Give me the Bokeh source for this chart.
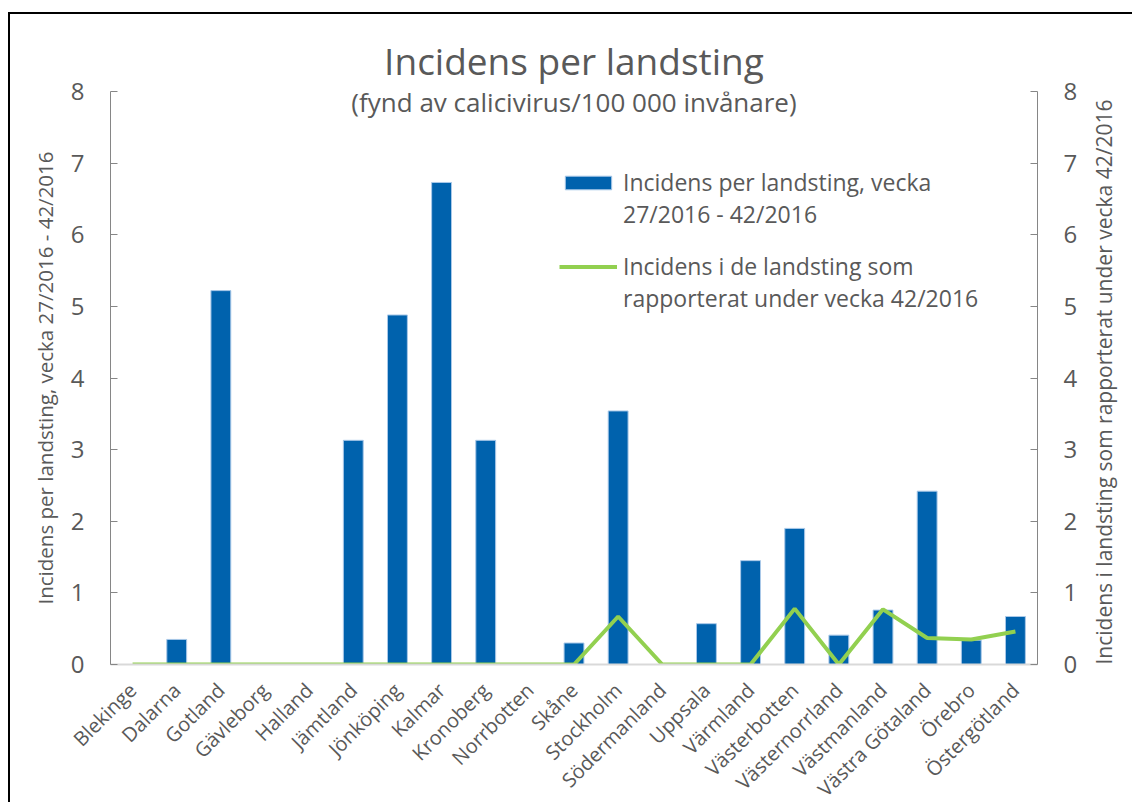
from math import pi
from bokeh.plotting import figure
from bokeh.models import (ColumnDataSource, Range1d, LinearAxis, Legend, LegendItem,
                          Label, Title, SingleIntervalTicker, FactorRange)
from bokeh.embed import file_html
from bokeh.resources import INLINE

landsting = ["Blekinge", "Dalarna", "Gotland", "Gävleborg", "Halland", "Jämtland",
             "Jönköping", "Kalmar", "Kronoberg", "Norrbotten", "Skåne", "Stockholm",
             "Södermanland", "Uppsala", "Värmland", "Västerbotten", "Västernorrland",
             "Västmanland", "Västra Götaland", "Örebro", "Östergötland"]
incidens_v27_42 = [0, 0.35, 5.22, 0, 0, 3.13, 4.88, 6.73, 3.13, 0, 0.30, 3.54, 0,
                   0.57, 1.45, 1.90, 0.41, 0.76, 2.42, 0.34, 0.67]
incidens_v42 = [0, 0, 0, 0, 0, 0, 0, 0, 0, 0, 0, 0.67, 0, 0, 0, 0.78, 0, 0.77,
                0.37, 0.35, 0.46]

FONT = "Open Sans"
TXT = "#595959"
AXC = "#868686"

src = ColumnDataSource(dict(landsting=landsting, bars=incidens_v27_42, line=incidens_v42))

p = figure(x_range=FactorRange(*landsting), y_range=Range1d(0, 8),
           frame_width=927, frame_height=573, output_backend="svg", toolbar_location=None,
           min_border_left=100, min_border_right=85, min_border_top=77,
           min_border_bottom=120)
p.margin = (12, 0, 0, 8)
p.styles = {"border-left": "2px solid black", "border-top": "2px solid black"}
p.outline_line_color = None
p.xgrid.visible = False
p.ygrid.visible = False
p.background_fill_color = "white"
p.border_fill_color = "white"

p.extra_y_ranges = {"v42": Range1d(0, 8)}

title = Title(text="Incidens per landsting", align="center", text_font=FONT,
              text_font_size="37px", text_font_style="normal", text_color=TXT,
              standoff=12)
p.add_layout(title, "above")

sub = Label(x=10.5, y=7.85, text="(fynd av calicivirus/100 000 invånare)",
            text_align="center", text_baseline="middle", text_font=FONT,
            text_font_size="26px", text_color=TXT)
p.add_layout(sub)

bars = p.vbar(x="landsting", top="bars", width=0.45, source=src,
              fill_color="#0062AD", line_color="#a9c8e8", line_width=1)
line = p.line(x="landsting", y="line", source=src, y_range_name="v42",
              line_color="#92D050", line_width=4)

# x axis
xa = p.xaxis[0]
xa.major_label_orientation = pi / 4
xa.major_tick_line_color = None
xa.axis_line_color = "#d9d9d9"
xa.axis_line_width = 2
xa.major_label_text_font = FONT
xa.major_label_text_font_size = "20px"
xa.major_label_text_color = TXT
xa.major_label_standoff = 16

# left axis
ya = p.yaxis[0]
ya.ticker = SingleIntervalTicker(interval=1)
ya.major_tick_in = 7
ya.major_tick_out = 0
ya.minor_tick_line_color = None
ya.axis_line_color = AXC
ya.major_tick_line_color = AXC
ya.major_label_text_font = FONT
ya.major_label_text_font_size = "24px"
ya.major_label_text_color = TXT
ya.major_label_standoff = 22
ya.axis_label = "Incidens per landsting, vecka 27/2016 - 42/2016"
ya.axis_label_text_font = FONT
ya.axis_label_text_font_size = "20.5px"
ya.axis_label_text_font_style = "normal"
ya.axis_label_text_color = TXT
ya.axis_label_standoff = 9

# right axis
ra = LinearAxis(y_range_name="v42", ticker=SingleIntervalTicker(interval=1))
ra.major_tick_in = 7
ra.major_tick_out = 0
ra.minor_tick_line_color = None
ra.axis_line_color = AXC
ra.major_tick_line_color = AXC
ra.major_label_text_font = FONT
ra.major_label_text_font_size = "24px"
ra.major_label_text_color = TXT
ra.major_label_standoff = 22
ra.axis_label = "Incidens i landsting som rapporterat under vecka 42/2016"
ra.axis_label_text_font = FONT
ra.axis_label_text_font_size = "21px"
ra.axis_label_text_font_style = "normal"
ra.axis_label_text_color = TXT
ra.axis_label_standoff = 24
try:
    ra.axis_label_align = "start"
    ra.axis_label_orientation = pi / 2
except Exception:
    pass
p.add_layout(ra, "right")

common = dict(padding=0, margin=0, spacing=0, glyph_width=58, glyph_height=17,
              label_standoff=6, label_height=30, label_text_font=FONT,
              label_text_font_size="23px", label_text_color=TXT,
              border_line_alpha=0, background_fill_alpha=0)

legend1 = Legend(items=[
    LegendItem(label="Incidens per landsting, vecka", renderers=[bars]),
    LegendItem(label="27/2016 - 42/2016", renderers=[]),
], location=(449, 434), **common)
legend2 = Legend(items=[
    LegendItem(label="Incidens i de landsting som", renderers=[line]),
    LegendItem(label="rapporterat under vecka 42/2016", renderers=[]),
], location=(449, 350), **common)
p.add_layout(legend1)
p.add_layout(legend2)

open("out.html", "w").write(file_html(p, INLINE))
